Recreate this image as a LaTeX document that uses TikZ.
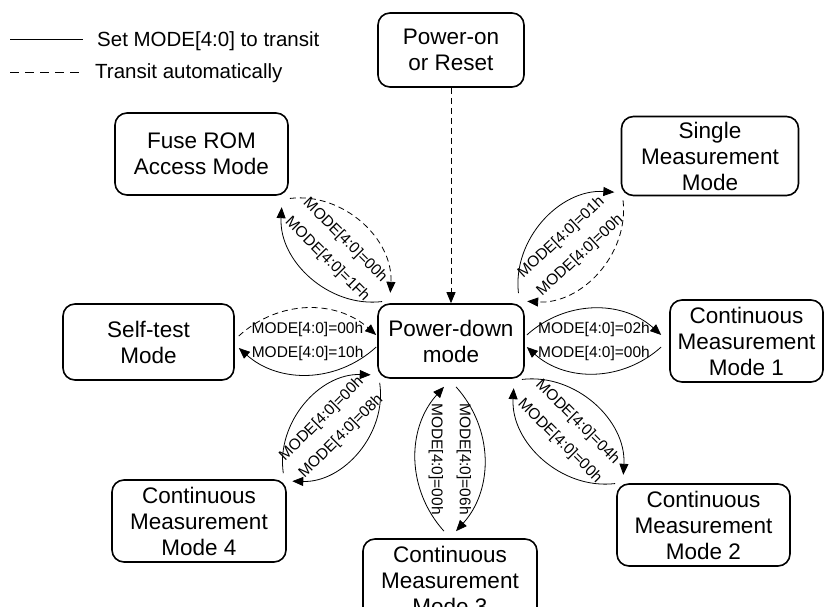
\documentclass[tikz,border=0pt]{standalone}
\usepackage{fontspec}
\setmainfont{Liberation Sans}
\usetikzlibrary{arrows.meta,calc}

% Two opposite bent transitions between the ends (#2p) and (#2q):
% #1 bend angle, #3/#4 style and text of the arc p->q (left side),
% #5/#6 style and text of the arc q->p, #7 rotation of the texts,
% #8 distance of the texts from the axis p--q.
\newcommand\drawlens[8][42]{%
  \coordinate (#2m)  at ($(#2p)!0.5!(#2q)$);
  \coordinate (#2pl) at ($(#2p)!6pt!90:(#2q)$);
  \coordinate (#2ql) at ($(#2q)!6pt!-90:(#2p)$);
  \coordinate (#2pr) at ($(#2p)!6pt!-90:(#2q)$);
  \coordinate (#2qr) at ($(#2q)!6pt!90:(#2p)$);
  \draw[#3] (#2pl) to[bend left=#1] (#2ql);
  \draw[#5] (#2qr) to[bend left=#1] (#2pr);
  \node[lbl, rotate=#7] (#2lab1) at ($(#2m)!#8!90:(#2q)$) {#4};
  \node[lbl, rotate=#7] (#2lab2) at ($(#2m)!#8!-90:(#2q)$) {#6};
}

\begin{document}
\begin{tikzpicture}[x=1pt, y=1pt,
  state/.style={draw, line width=1.6pt, rounded corners=12pt, align=center,
    inner sep=0pt, font=\fontsize{22.5}{26}\selectfont},
  settrans/.style={line width=0.8pt, -{Triangle[length=11pt,width=9pt]}},
  autotrans/.style={settrans, dash pattern=on 6pt off 4pt},
  lbl/.style={font=\fontsize{15.5}{18}\selectfont, inner sep=0pt},
  legtext/.style={font=\fontsize{20.5}{24}\selectfont, inner sep=0pt, anchor=west},
]
\useasboundingbox (0,0) rectangle (830,606);
\clip (0,0) rectangle (830,606);

% legend
\coordinate (la1) at (10,566);
\coordinate (la2) at (83,566);
\coordinate (lb1) at (10,533);
\coordinate (lb2) at (83,533);
\draw[line width=1pt] (la1) -- (la2);
\draw[line width=1pt, dash pattern=on 9pt off 6pt] (lb1) -- (lb2);
\node[legtext] (leg1) at (97,565) {Set MODE[4:0] to transit};
\node[legtext] (leg2) at (95,533) {Transit automatically};

% states
\node[state, minimum width=146pt, minimum height=74pt] (poweron)   at (451,556)   {Power-on\\or Reset};
\node[state, minimum width=146pt, minimum height=74pt] (powerdown) at (451,265)   {Power-down\\mode};
\node[state, minimum width=173pt, minimum height=82pt] (fuse)      at (201.5,452) {Fuse ROM\\Access Mode};
\node[state, minimum width=177pt, minimum height=79pt] (single)    at (710,450)   {Single\\Measurement\\Mode};
\node[state, minimum width=171pt, minimum height=76pt] (selftest)  at (148.5,264) {Self-test\\Mode};
\node[state, minimum width=153pt, minimum height=82pt] (cm1)       at (746.5,265) {Continuous\\Measurement\\Mode 1};
\node[state, minimum width=173pt, minimum height=82pt] (cm2)       at (703.5,81)  {Continuous\\Measurement\\Mode 2};
\node[state, minimum width=174pt, minimum height=82pt] (cm3)       at (450,26)    {Continuous\\Measurement\\Mode 3};
\node[state, minimum width=174pt, minimum height=82pt] (cm4)       at (199,85)    {Continuous\\Measurement\\Mode 4};

% reset path
\draw[autotrans] (poweron.south -| powerdown.north) -- (powerdown.north);

% transitions
\coordinate (fzp) at ([shift={(9,6)}]powerdown.north west);
\coordinate (fzq) at ([shift={(-3,-7)}]fuse.south east);
\drawlens[50]{fz}{settrans}{MODE[4:0]=1Fh}{autotrans}{MODE[4:0]=00h}{-45}{13pt}

\coordinate (sgp) at ([shift={(-2,6)}]powerdown.north east);
\coordinate (sgq) at ([shift={(-2,0)}]single.south west);
\drawlens[50]{sg}{settrans}{MODE[4:0]=01h}{autotrans}{MODE[4:0]=00h}{43}{13pt}

\coordinate (stp) at ([shift={(-1,0)}]powerdown.west);
\coordinate (stq) at ([shift={(4,0)}]selftest.east);
\drawlens{st}{settrans}{MODE[4:0]=10h}{autotrans}{MODE[4:0]=00h}{0}{12pt}

\coordinate (c1p) at ([shift={(2,0)}]powerdown.east);
\coordinate (c1q) at ([shift={(-8,0)}]cm1.west);
\drawlens{c1}{settrans}{MODE[4:0]=02h}{settrans}{MODE[4:0]=00h}{0}{12pt}

\coordinate (c2p) at ([shift={(-7,-5)}]powerdown.south east);
\coordinate (c2q) at ([shift={(3,4)}]cm2.north west);
\drawlens[50]{c2}{settrans}{MODE[4:0]=04h}{settrans}{MODE[4:0]=00h}{-45}{13pt}

\coordinate (c3p) at ([shift={(-1,-8)}]powerdown.south);
\coordinate (c3q) at ([shift={(0,7)}]cm3.north);
\drawlens{c3}{settrans}{MODE[4:0]=06h}{settrans}{MODE[4:0]=00h}{-90}{14pt}

\coordinate (c4p) at ([shift={(-2,0)}]powerdown.south west);
\coordinate (c4q) at ([shift={(1,2)}]cm4.north east);
\drawlens[50]{c4}{settrans}{MODE[4:0]=08h}{settrans}{MODE[4:0]=00h}{45}{13pt}
\end{tikzpicture}
\end{document}
